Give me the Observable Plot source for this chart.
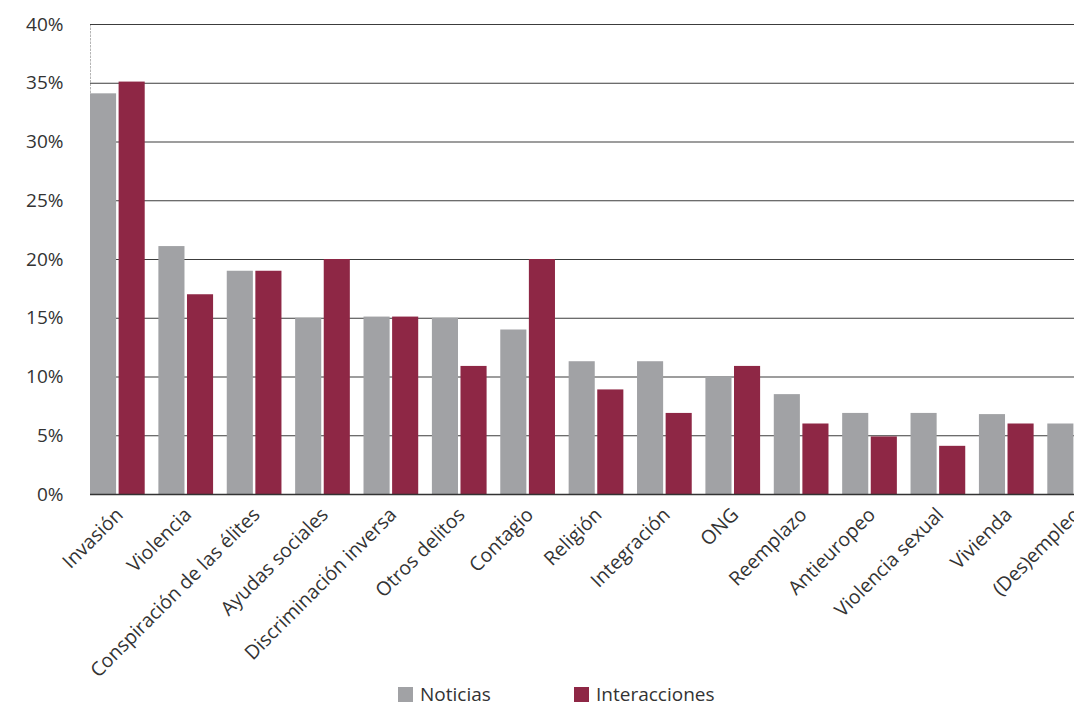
<!DOCTYPE html>
<html>
<head>
<meta charset="utf-8">
<script src="https://cdn.jsdelivr.net/npm/d3@7"></script>
<script src="https://cdn.jsdelivr.net/npm/@observablehq/plot@0.6"></script>
<style>
  html, body { margin: 0; padding: 0; background: #fff; overflow: hidden; }
  #wrap { position: relative; width: 1074px; height: 702px; overflow: hidden; font-family: "Open Sans", "Noto Sans", sans-serif; }
  #chart { position: absolute; left: 0; top: 0; width: 1112px; }
  #chart svg { max-width: none !important; }
  #legend { position: absolute; top: 683px; left: 398px; display: flex; align-items: center; font-size: 19px; color: #333; line-height: 22px; }
  .item { display: flex; align-items: center; }
  .sw { width: 15px; height: 15px; margin-right: 7px; }
</style>
</head>
<body>
<div id="wrap">
  <div id="chart"></div>
  <div id="legend"></div>
</div>
<script>
const categories = ["Invasión","Violencia","Conspiración de las élites","Ayudas sociales","Discriminación inversa","Otros delitos","Contagio","Religión","Integración","ONG","Reemplazo","Antieuropeo","Violencia sexual","Vivienda","(Des)empleo"];
const noticias = [34.1,21.1,19.0,15.0,15.1,15.0,14.0,11.3,11.3,10.0,8.5,6.9,6.9,6.8,6.0];
const interacciones = [35.1,17.0,19.0,20.0,15.1,10.9,20.0,8.9,6.9,10.9,6.0,4.9,4.1,6.0,5.0];
const seriesNames = ["Noticias","Interacciones"];
const seriesColors = ["#A1A2A5","#8E2745"];
const yTicks = [0,5,10,15,20,25,30,35,40];

const rowsN = categories.map((c,i) => ({cat: c, v: noticias[i]}));
const rowsI = categories.map((c,i) => ({cat: c, v: interacciones[i]}));

const plot = Plot.plot({
  width: 1112,
  height: 682,
  marginLeft: 90,
  marginRight: 10,
  marginTop: 24,
  marginBottom: 188,
  style: {fontFamily: "'Open Sans', 'Noto Sans', sans-serif", fontSize: "19px", color: "#333", background: "#fff", maxWidth: "none"},
  x: {domain: categories, paddingInner: 0.2, paddingOuter: 0, round: false},
  y: {domain: [0, 40]},
  marks: [
    Plot.frame({anchor: "left", stroke: "#b5b5b5", strokeDasharray: "1.5,2"}),
    Plot.ruleY(yTicks.filter(d => d > 0), {stroke: "#3c3c3c", strokeWidth: 1.2}),
    Plot.barY(rowsN, {x: "cat", y: "v", fill: seriesColors[0], insetRight: 28.6}),
    Plot.barY(rowsI, {x: "cat", y: "v", fill: seriesColors[1], insetLeft: 28.6}),
    Plot.ruleY([0], {stroke: "#333", strokeWidth: 1.5}),
    Plot.axisY({ticks: yTicks, tickSize: 0, tickPadding: 27, tickFormat: d => d + "%", fontSize: 19, label: null}),
    Plot.axisX({tickRotate: -45, tickSize: 0, tickPadding: 10, dx: 2, dy: 7, fontSize: 19.5, label: null})
  ]
});
document.getElementById("chart").appendChild(plot);

const legend = document.getElementById("legend");
seriesNames.forEach((name, i) => {
  const it = document.createElement("div");
  it.className = "item";
  it.style.width = i === 0 ? "176px" : "auto";
  const sw = document.createElement("div");
  sw.className = "sw";
  sw.style.background = seriesColors[i];
  const t = document.createElement("span");
  t.textContent = name;
  it.appendChild(sw);
  it.appendChild(t);
  legend.appendChild(it);
});
</script>
</body>
</html>
